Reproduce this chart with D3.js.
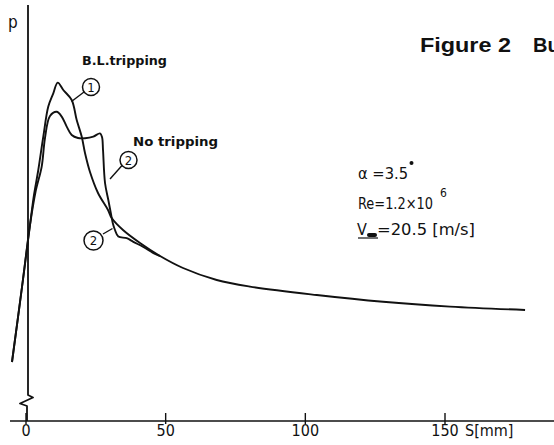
<!DOCTYPE html>
<html><head><meta charset="utf-8">
<script src="https://cdn.jsdelivr.net/npm/d3@7"></script>
<style>
html,body{margin:0;padding:0;background:#fff;}
svg{display:block;}
text{fill:#111;}
</style></head>
<body>
<svg id="c" width="554" height="445"></svg>
<script>
// ---- data (S in mm, p in arbitrary units) ----
const sTripping = [-5.01, -1.43, 1.43, 2.86, 4.40, 6.19, 7.98, 9.77, 11.35, 13.35, 16.36, 18.15, 19.94, 21.12, 22.91, 25.78, 29.36, 30.68, 34.73, 40.82, 47.98, 56.21, 68.28, 80.20, 104.08, 127.82, 151.81, 178.66];
const pTripping = [1.475, 3.35, 4.90, 5.65, 6.275, 7.11, 7.86, 8.19, 8.46, 8.275, 8.025, 7.525, 7.11, 6.70, 6.225, 5.70, 5.275, 5.075, 4.775, 4.45, 4.125, 3.825, 3.525, 3.36, 3.15, 2.98, 2.86, 2.775];
const sNoTripping = [-5.01, -1.43, 1.43, 3.40, 5.62, 6.80, 8.59, 10.99, 12.78, 14.57, 16.36, 18.62, 21.12, 24.10, 26.49, 27.21, 27.57, 28.29, 29.47, 30.43, 31.15, 31.86, 33.05, 36.05, 38.42, 42.0, 46.19, 47.98];
const pNoTripping = [1.475, 3.35, 4.90, 5.725, 6.36, 7.075, 7.625, 7.73, 7.61, 7.36, 7.15, 7.075, 7.07, 7.11, 7.19, 7.10, 6.775, 5.95, 5.525, 5.175, 4.925, 4.775, 4.61, 4.57, 4.48, 4.35, 4.175, 4.125];
const xTicks = [0, 50, 100, 150];
const xTickLabels = ["0", "50", "100", "150"];
const xAxisTitle = "S[mm]";
const yAxisTitle = "p";
const figTitle = "Figure 2";
const figTitleCut = "Bu";
const labelTripping = "B.L.tripping";
const labelNoTripping = "No tripping";

// ---- scales ----
const svg = d3.select("#c");
const x = d3.scaleLinear().domain([0, 150]).range([26, 445]);
const y = d3.scaleLinear().domain([0, 10]).range([421, 21]);
const ink = "#111";
const lblFont = "'DejaVu Sans Condensed','Liberation Sans Narrow','Liberation Sans',sans-serif";

// ---- x axis ----
svg.append("line").attr("x1", 10).attr("x2", 554).attr("y1", y(0)).attr("y2", y(0))
  .attr("stroke", ink).attr("stroke-width", 1.6);
const tk = svg.append("g");
xTicks.forEach((t, i) => {
  tk.append("line").attr("x1", x(t)).attr("x2", x(t)).attr("y1", y(0) - 8).attr("y2", y(0) + 3)
    .attr("stroke", ink).attr("stroke-width", 1.4);
  tk.append("text").attr("x", x(t)).attr("y", 436).attr("text-anchor", "middle")
    .attr("font-family", lblFont).attr("font-size", 16).text(xTickLabels[i]);
});
svg.append("text").attr("x", 465).attr("y", 436).attr("font-family", lblFont)
  .attr("font-size", 16).text(xAxisTitle);

// ---- y axis with break ----
const ax = x(0) + 2;
svg.append("path")
  .attr("d", `M${ax},5 L${ax},395 L${ax + 5},397.5 L${ax - 8},403.5 L${ax - 1},406 L${ax - 1},${y(0)}`)
  .attr("fill", "none").attr("stroke", ink).attr("stroke-width", 1.8).attr("stroke-linejoin", "round");
svg.append("text").attr("x", 8).attr("y", 28).attr("font-family", lblFont)
  .attr("font-size", 17).text(yAxisTitle);

// ---- curves ----
const line = d3.line().x(d => x(d[0])).y(d => y(d[1])).curve(d3.curveCatmullRom.alpha(0.5));
const c1 = sTripping.map((s, i) => [s, pTripping[i]]);
const c2 = sNoTripping.map((s, i) => [s, pNoTripping[i]]);
[c1, c2].forEach(c => {
  svg.append("path").attr("d", line(c)).attr("fill", "none").attr("stroke", ink)
    .attr("stroke-width", 1.9).attr("stroke-linejoin", "round");
});

// ---- annotations ----
function bubble(cx, cy, r, num, lx1, ly1, lx2, ly2) {
  svg.append("line").attr("x1", lx1).attr("y1", ly1).attr("x2", lx2).attr("y2", ly2)
    .attr("stroke", ink).attr("stroke-width", 1.4);
  svg.append("circle").attr("cx", cx).attr("cy", cy).attr("r", r)
    .attr("fill", "#fff").attr("stroke", ink).attr("stroke-width", 1.5);
  svg.append("text").attr("x", cx).attr("y", cy + 4.5).attr("text-anchor", "middle")
    .attr("font-family", lblFont).attr("font-size", 13).text(num);
}
bubble(91, 87, 8.5, "1", 84, 92, 71.5, 101.5);
bubble(128.5, 160, 8.5, "2", 122, 165.5, 110, 179);
bubble(93.5, 240.5, 9.5, "2", 103, 234, 112.5, 228.5);

svg.append("text").attr("x", 82).attr("y", 65).attr("font-family", lblFont)
  .attr("font-size", 12).attr("font-weight", "bold")
  .attr("textLength", 85).attr("lengthAdjust", "spacingAndGlyphs").text(labelTripping);
svg.append("text").attr("x", 133).attr("y", 146).attr("font-family", lblFont)
  .attr("font-size", 12).attr("font-weight", "bold")
  .attr("textLength", 85).attr("lengthAdjust", "spacingAndGlyphs").text(labelNoTripping);

// parameters block
const pf = lblFont;
svg.append("text").attr("x", 358).attr("y", 179).attr("font-family", pf).attr("font-size", 16)
  .attr("textLength", 50).attr("lengthAdjust", "spacingAndGlyphs").text("α =3.5");
svg.append("circle").attr("cx", 411.5).attr("cy", 163).attr("r", 2).attr("fill", ink);
svg.append("text").attr("x", 358).attr("y", 209).attr("font-family", pf).attr("font-size", 16)
  .attr("textLength", 75).attr("lengthAdjust", "spacingAndGlyphs").text("Re=1.2×10");
svg.append("text").attr("x", 440).attr("y", 197).attr("font-family", pf).attr("font-size", 12).text("6");
svg.append("text").attr("x", 357).attr("y", 235).attr("font-family", pf).attr("font-size", 16).text("V");
svg.append("rect").attr("x", 367).attr("y", 233).attr("width", 10).attr("height", 4).attr("rx", 2).attr("fill", ink);
svg.append("line").attr("x1", 358).attr("x2", 378).attr("y1", 238).attr("y2", 238).attr("stroke", ink).attr("stroke-width", 1.2);
svg.append("text").attr("x", 377).attr("y", 235).attr("font-family", pf).attr("font-size", 16)
  .attr("textLength", 98).attr("lengthAdjust", "spacingAndGlyphs").text("=20.5 [m/s]");

// title
svg.append("text").attr("x", 420).attr("y", 52).attr("font-family", "'Liberation Sans',Arial,sans-serif")
  .attr("font-size", 20).attr("font-weight", "bold")
  .attr("textLength", 91).attr("lengthAdjust", "spacingAndGlyphs").text(figTitle);
svg.append("text").attr("x", 533).attr("y", 52).attr("font-family", "'Liberation Sans',Arial,sans-serif")
  .attr("font-size", 20).attr("font-weight", "bold").text(figTitleCut);
</script>
</body></html>
